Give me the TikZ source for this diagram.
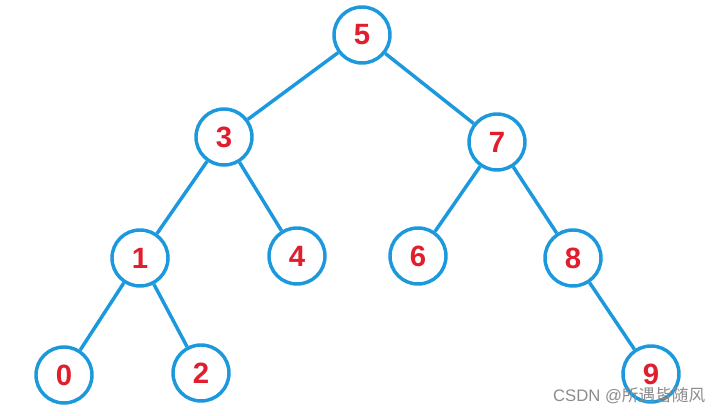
\documentclass[tikz,border=0pt]{standalone}
\usepackage{fontspec}
\setmainfont{Liberation Sans}
\newfontfamily\cjk{Noto Sans CJK SC}
\definecolor{treeblue}{RGB}{28,152,220}
\definecolor{keyred}{RGB}{225,30,45}

\begin{document}
\begin{tikzpicture}[x=0.75pt, y=-0.75pt,
    key/.style={circle, draw=treeblue, line width=2.6pt, fill=white,
        minimum size=42pt, inner sep=0pt, text=keyred,
        font=\fontsize{22}{22}\selectfont\bfseries},
    branch/.style={treeblue, line width=2.6pt}]
    \useasboundingbox (0,0) rectangle (726,416);

    % Draw the keys
    \node[key] (k5) at (362,35) {5};
    \node[key] (k3) at (224,137) {3};
    \node[key] (k7) at (497,142) {7};
    \node[key] (k1) at (140,258) {1};
    \node[key] (k4) at (297,256) {4};
    \node[key] (k6) at (418,256) {6};
    \node[key] (k8) at (573,258) {8};
    \node[key] (k0) at (64,375) {0};
    \node[key] (k2) at (201,373) {2};
    \node[key] (k9) at (651,374) {9};

    % Draw the branches
    \foreach \a/\b in {k5/k3, k5/k7, k3/k1, k3/k4, k7/k6, k7/k8, k1/k0, k1/k2, k8/k9}
        \draw[branch] (\a) -- (\b);

    % Watermark
    \node[text=black!45, font=\fontsize{12.5}{12.5}\selectfont, anchor=east] (mark) at (710,396) {CSDN @{\cjk 所遇皆随风}};
\end{tikzpicture}
\end{document}
